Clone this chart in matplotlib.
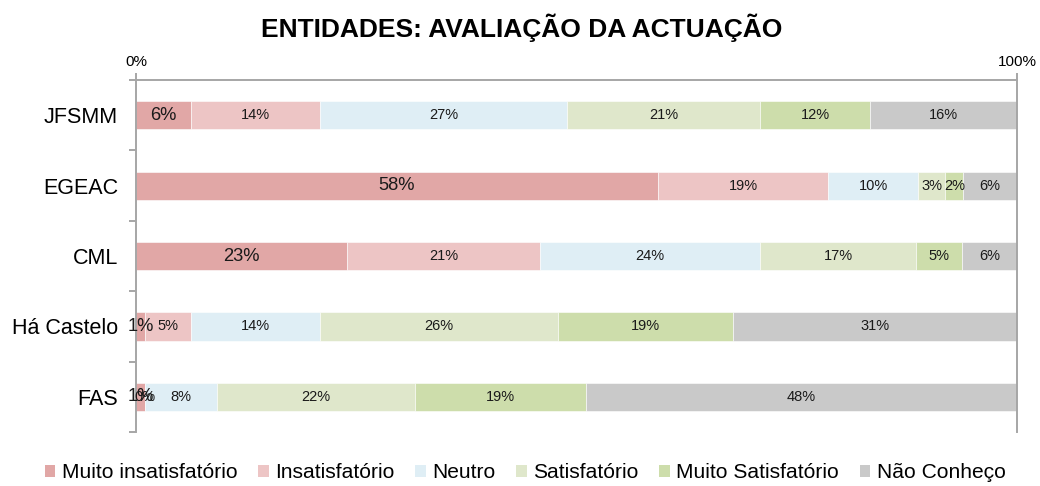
import numpy as np
import matplotlib
matplotlib.use("Agg")
import matplotlib.pyplot as plt
from matplotlib.patches import Patch

plt.rcParams['font.family'] = ['Liberation Sans', 'DejaVu Sans']

# data (percentages as shown on the labels, rows are normalised to 100%)
entidades = ['JFSMM', 'EGEAC', 'CML', 'Há Castelo', 'FAS']
muito_insatisfatorio = [6, 58, 23, 1, 1]
insatisfatorio = [14, 19, 21, 5, 0]
neutro = [27, 10, 24, 14, 8]
satisfatorio = [21, 3, 17, 26, 22]
muito_satisfatorio = [12, 2, 5, 19, 19]
nao_conheco = [16, 6, 6, 31, 48]

series_names = ['Muito insatisfatório', 'Insatisfatório', 'Neutro',
                'Satisfatório', 'Muito Satisfatório', 'Não Conheço']
colors = ['#E1A7A6', '#EDC5C5', '#DFEEF5', '#DFE7CB', '#CDDDAB', '#C9C9C9']

series = np.array([muito_insatisfatorio, insatisfatorio, neutro,
                   satisfatorio, muito_satisfatorio, nao_conheco], dtype=float)
totals = series.sum(axis=0)
shares = series / totals * 100

fig = plt.figure(figsize=(10.4, 4.86), dpi=100)
ax = fig.add_axes([0.1308, 0.111, 0.8473, 0.7244])

y = np.arange(len(entidades))
left = np.zeros(len(entidades))
for i in range(len(series_names)):
    bars = ax.barh(y, shares[i], left=left, height=0.4, color=colors[i],
                   edgecolor='white', linewidth=0.4, label=series_names[i])
    labels = ['%d%%' % v for v in series[i]]
    ax.bar_label(bars, labels=labels, label_type='center',
                 fontsize=13.2 if i == 0 else 10.5, color='#1a1a1a')
    left += shares[i]

ax.set_xlim(0, 100)
ax.set_ylim(len(entidades) - 0.5, -0.5)
ax.xaxis.tick_top()
ax.set_xticks([0, 100])
ax.set_xticklabels(['0%', '100%'], fontsize=11)
ax.tick_params(axis='x', direction='out', length=5, width=1.4, color='#A6A6A6', pad=3)

ax.set_yticks(y)
ax.set_yticklabels(entidades, fontsize=15.5)
ax.set_yticks(np.arange(-0.5, len(entidades), 1.0), minor=True)
ax.tick_params(axis='y', which='major', length=0, pad=13)
ax.tick_params(axis='y', which='minor', direction='out', length=5, width=1.4, color='#A6A6A6')

for s in ['top', 'left', 'right']:
    ax.spines[s].set_color('#A6A6A6')
    ax.spines[s].set_linewidth(1.4)
ax.spines['bottom'].set_visible(False)

fig.text(0.502, 0.942, 'ENTIDADES: AVALIAÇÃO DA ACTUAÇÃO', ha='center', va='center',
         fontsize=19, fontweight='bold')

handles = [Patch(facecolor=c, edgecolor='none') for c in colors]
fig.legend(handles, series_names, loc='center', bbox_to_anchor=(0.505, 0.027), ncol=6,
           frameon=False, fontsize=15.1, handlelength=0.5, handleheight=0.5,
           handletextpad=0.3, columnspacing=1.0)

fig.savefig('out.png', dpi=100)
